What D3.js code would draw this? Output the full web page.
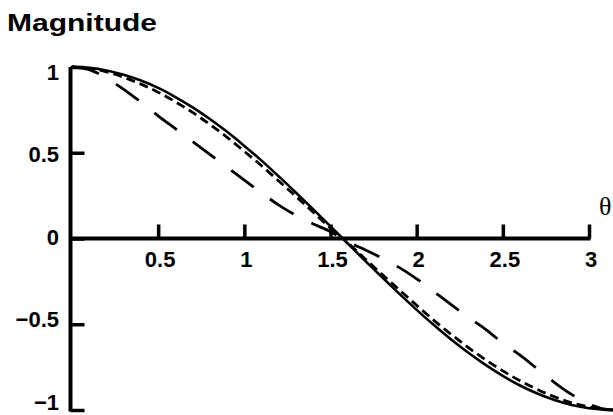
<!DOCTYPE html>
<html>
<head>
<meta charset="utf-8">
<script src="https://cdn.jsdelivr.net/npm/d3@7"></script>
<style>
  body { margin: 0; background: #fff; }
  svg { display: block; }
  .lbl { font-family: "Liberation Sans", Arial, sans-serif; font-weight: bold; font-size: 22px; fill: #000; }
</style>
</head>
<body>
<script>
const width = 613,
    height = 415;

// theta samples (radians) and the three curves
const theta = [0, 0.1, 0.2, 0.3, 0.4, 0.5, 0.6, 0.7, 0.8, 0.9, 1.0, 1.1, 1.2, 1.3, 1.4, 1.5,
    1.6, 1.7, 1.8, 1.9, 2.0, 2.1, 2.2, 2.3, 2.4, 2.5, 2.6, 2.7, 2.8, 2.9, 3.0, 3.1, 3.1416];

const solidVals = [1, 0.995, 0.98, 0.955, 0.921, 0.878, 0.825, 0.765, 0.697, 0.622, 0.54, 0.454,
    0.362, 0.267, 0.17, 0.071, -0.029, -0.129, -0.227, -0.323, -0.416, -0.505, -0.589, -0.666,
    -0.737, -0.801, -0.857, -0.904, -0.942, -0.971, -0.99, -0.999, -1];

const shortDashVals = [1, 0.993, 0.972, 0.94, 0.9, 0.853, 0.797, 0.735, 0.665, 0.59, 0.508, 0.424,
    0.335, 0.245, 0.153, 0.06, -0.025, -0.118, -0.21, -0.3, -0.39, -0.477, -0.559, -0.636,
    -0.707, -0.772, -0.83, -0.88, -0.923, -0.958, -0.982, -0.996, -1];

const longDashVals = [1, 0.985, 0.935, 0.87, 0.795, 0.715, 0.64, 0.565, 0.49, 0.415, 0.34, 0.265,
    0.195, 0.135, 0.085, 0.04, -0.02, -0.065, -0.115, -0.17, -0.235, -0.31, -0.385, -0.46,
    -0.53, -0.61, -0.68, -0.76, -0.84, -0.91, -0.965, -0.997, -1];

const xTicks = [0.5, 1, 1.5, 2, 2.5, 3];
const yTicks = [1, 0.5, 0, -0.5, -1];

const x = d3.scaleLinear().domain([0, 3]).range([72, 589]);
const y = d3.scaleLinear().domain([-1, 1]).range([410, 67]);
// y tick labels sit a little inside the tick span in the original figure
const yLab = d3.scaleLinear().domain([-1, 1]).range([402, 72]);

const svg = d3.select('body')
    .append('svg')
    .attr('width', width)
    .attr('height', height);

// title
svg.append('text')
    .attr('class', 'lbl')
    .attr('x', 7)
    .attr('y', 31)
    .attr('textLength', 150)
    .attr('lengthAdjust', 'spacingAndGlyphs')
    .style('font-size', '24px')
    .text('Magnitude');

// y axis: ticks to the right, labels on the left
const yAxis = svg.append('g')
    .attr('transform', `translate(${x(0) - 1.5},0)`)
    .call(d3.axisRight(y).tickValues(yTicks).tickSize(14).tickSizeOuter(0).tickFormat(''));
yAxis.select('.domain').remove();
yAxis.selectAll('.tick line').attr('stroke', '#000').attr('stroke-width', 3.5);

svg.append('line')
    .attr('x1', x(0) - 1.5).attr('x2', x(0) - 1.5)
    .attr('y1', y(1)).attr('y2', y(-1) + 1.5)
    .attr('stroke', '#000').attr('stroke-width', 4);

svg.selectAll('text.ylab')
    .data(yTicks)
    .enter()
    .append('text')
    .attr('class', 'lbl ylab')
    .attr('x', 59)
    .attr('y', d => yLab(d))
    .attr('dy', '0.35em')
    .attr('text-anchor', 'end')
    .text(d => d3.format('')(d));

// x axis along zero: ticks upward, labels below
const xAxis = svg.append('g')
    .attr('transform', `translate(0,${y(0)})`)
    .call(d3.axisTop(x).tickValues(xTicks).tickSize(14).tickSizeOuter(0).tickFormat(''));
xAxis.select('.domain').remove();
xAxis.selectAll('.tick line').attr('stroke', '#000').attr('stroke-width', 3.5);

svg.append('line')
    .attr('x1', x(0) - 3).attr('x2', x(3) + 1.5)
    .attr('y1', y(0)).attr('y2', y(0))
    .attr('stroke', '#000').attr('stroke-width', 4);

svg.selectAll('text.xlab')
    .data(xTicks)
    .enter()
    .append('text')
    .attr('class', 'lbl xlab')
    .attr('x', d => x(d) + 2)
    .attr('y', y(0) + 28)
    .attr('text-anchor', 'middle')
    .text(d => d3.format('')(d));

svg.append('text')
    .attr('x', 599)
    .attr('y', 215)
    .style('font-family', '"Liberation Serif", "Times New Roman", serif')
    .style('font-size', '26px')
    .text('θ');

// curves
const line = d3.line()
    .x(d => x(d[0]))
    .y(d => y(d[1]))
    .curve(d3.curveCatmullRom);

const series = [
    {vals: longDashVals, dash: '28,20', w: 2.8},
    {vals: shortDashVals, dash: '9,5', w: 2.8},
    {vals: solidVals, dash: null, w: 2.6}
];

svg.selectAll('path.curve')
    .data(series)
    .enter()
    .append('path')
    .attr('class', 'curve')
    .attr('fill', 'none')
    .attr('stroke', '#000')
    .attr('stroke-width', d => d.w)
    .attr('stroke-dasharray', d => d.dash)
    .attr('d', d => line(theta.map((t, i) => [t, d.vals[i]])));
</script>
</body>
</html>
